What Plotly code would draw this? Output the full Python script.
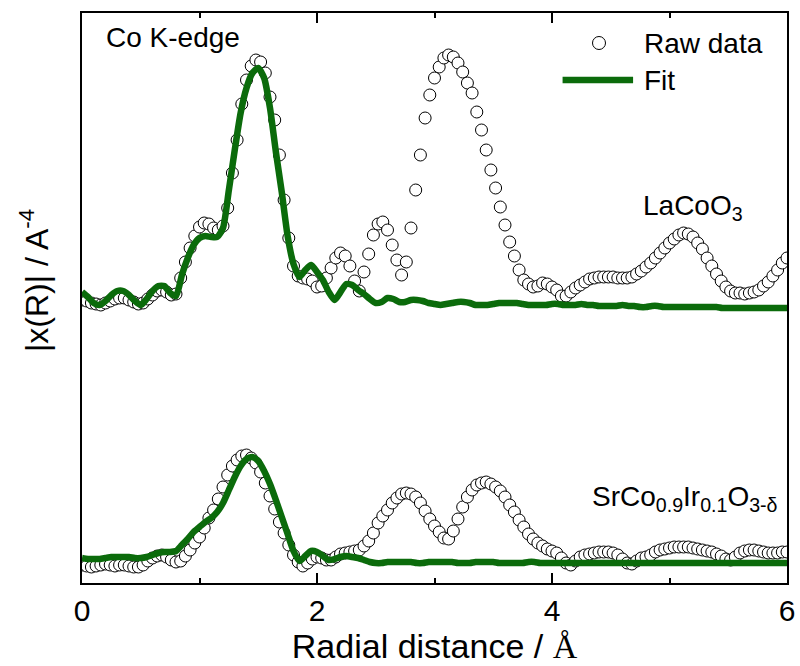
import numpy as np
import plotly.graph_objects as go

# ---------------- data (arbitrary units, curves already vertically offset) ----------------
RAW_STEP = 0.04
FIT_STEP = 0.05

lacoo3_raw = [
    283, 282, 280, 279, 278, 280, 282, 284, 285, 285,
    283, 281, 279, 280, 284, 288, 292, 293, 291, 288,
    289, 305, 321, 335, 347, 356, 360, 359, 355, 353,
    357, 375, 410, 443, 479, 503, 517, 523, 521, 510,
    486, 463, 428, 383, 345, 317, 307, 305, 304, 302,
    296, 297, 305, 315, 325, 330, 327, 317, 302, 292,
    311, 329, 348, 359, 361, 353, 338, 323, 308, 321,
    355, 393, 428, 465, 488, 505, 516, 525, 528, 526,
    520, 511, 500, 490, 471, 453, 433, 413, 395, 376,
    358, 341, 327, 313, 303, 299, 296, 297, 300, 299,
    296, 293, 287, 287, 291, 295, 298, 301, 304, 305,
    306, 306, 306, 306, 305, 305, 305, 306, 309, 312,
    316, 320, 325, 330, 335, 340, 344, 348, 350, 349,
    346, 340, 334, 325, 317, 309, 302, 296, 292, 290,
    290, 289, 290, 291, 293, 297, 301, 307, 313, 320,
    325,
]

lacoo3_fit = [
    291, 286, 280, 278, 282, 288, 292, 292, 288, 282,
    278, 284, 292, 297, 297, 290, 287, 308, 325, 338,
    345, 347, 346, 346, 355, 393, 433, 470, 495, 510,
    515, 505, 475, 431, 391, 347, 319, 306, 313, 318,
    311, 303, 291, 283, 291, 299, 298, 293, 289, 284,
    280, 281, 285, 284, 281, 281, 283, 283, 282, 280,
    279, 278, 279, 280, 281, 281, 280, 278, 278, 278,
    279, 280, 280, 280, 280, 279, 278, 278, 278, 278,
    279, 279, 278, 278, 278, 279, 278, 278, 277, 277,
    277, 277, 278, 277, 277, 276, 276, 277, 277, 276,
    276, 276, 276, 276, 276, 276, 276, 276, 276, 275,
    275, 275, 275, 275, 275, 275, 275, 275, 275, 275,
    275,
]

scio_raw = [
    18, 17, 16, 17, 18, 19, 18, 17, 18, 18,
    17, 16, 16, 18, 22, 25, 27, 28, 26, 23,
    21, 22, 27, 33, 40, 46, 55, 65, 73, 84,
    96, 108, 117, 123, 127, 128, 125, 120, 111, 100,
    87, 74, 61, 50, 38, 28, 21, 17, 20, 24,
    26, 25, 23, 23, 26, 29, 30, 31, 32, 33,
    37, 42, 50, 60, 67, 73, 80, 85, 89, 90,
    89, 86, 80, 72, 64, 57, 51, 45, 44, 52,
    64, 76, 86, 93, 98, 100, 101, 99, 96, 92,
    86, 78, 71, 63, 56, 49, 44, 40, 37, 34,
    32, 30, 25, 20, 18, 22, 26, 28, 29, 30,
    31, 31, 31, 30, 28, 24, 20, 19, 22, 25,
    26, 28, 31, 33, 34, 35, 36, 36, 36, 36,
    35, 34, 33, 32, 31, 29, 27, 24, 23, 26,
    30, 32, 33, 33, 32, 31, 30, 30, 30, 31,
    31,
]

scio_fit = [
    25, 24, 24, 24, 25, 26, 26, 26, 26, 25,
    25, 26, 28, 30, 31, 31, 32, 38, 44, 51,
    56, 61, 65, 71, 80, 93, 106, 117, 124, 126,
    122, 112, 99, 83, 66, 49, 32, 22, 27, 32,
    31, 27, 23, 24, 26, 27, 26, 25, 23, 21,
    20, 20, 21, 21, 21, 21, 21, 20, 20, 21,
    21, 21, 21, 21, 20, 20, 20, 21, 21, 21,
    21, 20, 20, 20, 20, 20, 21, 21, 20, 20,
    20, 20, 20, 20, 20, 20, 20, 20, 20, 20,
    20, 20, 20, 20, 20, 20, 20, 20, 20, 20,
    20, 20, 20, 20, 20, 20, 20, 20, 20, 20,
    20, 20, 20, 20, 20, 20, 20, 20, 20, 20,
    20,
]

x_ticks = [0, 2, 4, 6]
sample_labels = ["LaCoO<sub>3</sub>", "SrCo<sub>0.9</sub>Ir<sub>0.1</sub>O<sub>3-δ</sub>"]

# ---------------- figure ----------------
FONT = "Arial, 'Liberation Sans', sans-serif"
GREEN = "#0b6b0b"

raw_x_up = np.round(np.arange(len(lacoo3_raw)) * RAW_STEP, 3)
raw_x_lo = np.round(np.arange(len(scio_raw)) * RAW_STEP, 3)
fit_x_up = np.round(np.arange(len(lacoo3_fit)) * FIT_STEP, 3)
fit_x_lo = np.round(np.arange(len(scio_fit)) * FIT_STEP, 3)

marker = dict(symbol="circle", size=12, color="white", line=dict(color="black", width=1))
fitline = dict(color=GREEN, width=6.5, shape="spline", smoothing=0.6)

fig = go.Figure()
fig.add_trace(go.Scatter(x=raw_x_lo, y=scio_raw, mode="markers", marker=marker,
                         name="Raw data", showlegend=False))
fig.add_trace(go.Scatter(x=raw_x_up, y=lacoo3_raw, mode="markers", marker=marker,
                         name="Raw data", showlegend=False))
fig.add_trace(go.Scatter(x=fit_x_lo, y=scio_fit, mode="lines", line=fitline,
                         name="Fit", showlegend=False))
fig.add_trace(go.Scatter(x=fit_x_up, y=lacoo3_fit, mode="lines", line=fitline,
                         name="Fit", showlegend=False))

# manual legend (sample symbols + text)
fig.add_shape(type="circle", xref="x", yref="y", xsizemode="pixel", ysizemode="pixel",
              xanchor=4.40, yanchor=540, x0=-6.5, x1=6.5, y0=-6.5, y1=6.5,
              line=dict(color="black", width=1), fillcolor="white")
fig.add_shape(type="line", xref="x", yref="y", x0=4.09, x1=4.69, y0=503, y1=503,
              line=dict(color=GREEN, width=6.5))

ann_font = dict(family=FONT, size=28, color="black")
annotations = [
    dict(x=0.19, y=546, text="Co K-edge"),
    dict(x=4.77, y=540, text="Raw data"),
    dict(x=4.77, y=503, text="Fit"),
    dict(x=4.76, y=376, text=sample_labels[0]),
    dict(x=4.32, y=85, text=sample_labels[1]),
]
for a in annotations:
    fig.add_annotation(xref="x", yref="y", xanchor="left", yanchor="middle",
                       showarrow=False, font=ann_font, **a)

# y-axis title
fig.add_annotation(xref="paper", yref="paper", x=-0.068, y=0.53, xanchor="center", yanchor="middle",
                   text="|x(R)| / A<sup>-4</sup>", textangle=-90, showarrow=False,
                   font=dict(family=FONT, size=32, color="black"))

fig.update_layout(
    width=800, height=666,
    margin=dict(l=82, r=13, t=13, b=83),
    paper_bgcolor="white", plot_bgcolor="white",
    font=dict(family=FONT, color="black"),
    showlegend=False,
)
fig.update_xaxes(
    range=[0, 6], tickvals=x_ticks, ticktext=[str(v) for v in x_ticks],
    ticks="inside", ticklen=10, tickwidth=2, tickcolor="black",
    minor=dict(dtick=1, tick0=0, ticks="inside", ticklen=5, tickwidth=2, tickcolor="black"),
    showline=True, linewidth=2, linecolor="black", mirror="allticks",
    showgrid=False, zeroline=False, automargin=False,
    tickfont=dict(family=FONT, size=30, color="black"),
    title=dict(text="Radial distance / <span style='font-family:Liberation Serif'>Å</span>",
               font=dict(family=FONT, size=34, color="black"), standoff=2),
)
fig.update_yaxes(
    range=[0, 570], showticklabels=False, ticks="",
    showline=True, linewidth=2, linecolor="black", mirror=True,
    showgrid=False, zeroline=False, automargin=False,
)

fig.write_html("out.html")
